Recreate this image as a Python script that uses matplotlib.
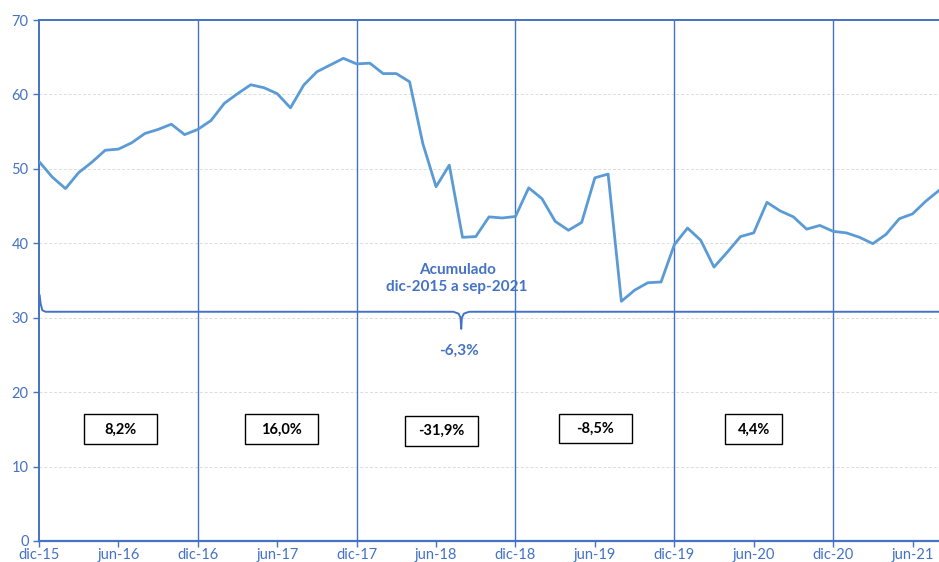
import matplotlib
matplotlib.use('Agg')

import numpy as np
import matplotlib.pyplot as plt
from matplotlib.patches import Rectangle

plt.rcParams['font.family'] = ['Lato', 'DejaVu Sans']

# datos mensuales dic-15 .. ago-21
valores = [51.0, 48.9, 47.35, 49.5, 50.9, 52.5, 52.65, 53.5, 54.75, 55.3, 56.0, 54.6,
           55.3, 56.5, 58.8, 60.1, 61.3, 60.9, 60.1, 58.2, 61.25, 63.05, 63.95, 64.85,
           64.1, 64.2, 62.8, 62.8, 61.7, 53.4, 47.6, 50.5, 40.8, 40.9, 43.55, 43.4,
           43.6, 47.45, 46.0, 42.95, 41.75, 42.8, 48.8, 49.3, 32.2, 33.7, 34.7, 34.8,
           39.8, 42.05, 40.4, 36.8, 38.8, 40.9, 41.4, 45.5, 44.35, 43.55, 41.9, 42.4,
           41.6, 41.4, 40.8, 39.95, 41.2, 43.3, 43.95, 45.65, 47.1]

etiquetas_x = ['dic-15', 'jun-16', 'dic-16', 'jun-17', 'dic-17', 'jun-18',
               'dic-18', 'jun-19', 'dic-19', 'jun-20', 'dic-20', 'jun-21']

variaciones = ['8,2%', '16,0%', '-31,9%', '-8,5%', '4,4%']
acumulado = '-6,3%'

AZUL = '#4472C4'
LINEA = '#5B9BD5'

fig = plt.figure(figsize=(9.39, 5.62), dpi=100)
ax = fig.add_axes([39 / 939, 1 - 541 / 562, 900 / 939, 521 / 562])

x = np.arange(len(valores))
ax.plot(x, valores, color=LINEA, lw=2.0, zorder=4, clip_on=True)

ax.set_xlim(0, 68)
ax.set_ylim(0, 70)
ax.set_yticks(range(0, 71, 10))
ax.set_xticks(np.arange(0, 6 * len(etiquetas_x), 6))
ax.set_xticklabels(etiquetas_x)
ax.yaxis.grid(True, color='#DCDCDC', ls='--', lw=0.7, dashes=(3, 2))
ax.set_axisbelow(True)

for lado in ['left', 'top', 'bottom']:
    ax.spines[lado].set_color(AZUL)
ax.spines['right'].set_visible(False)
ax.spines['bottom'].set_linewidth(1.6)
ax.spines['top'].set_linewidth(1.4)
ax.spines['left'].set_linewidth(1.4)
ax.tick_params(axis='both', colors=AZUL, labelcolor=AZUL, labelsize=10.5, length=4, width=1)
ax.tick_params(axis='x', pad=1)

# lineas verticales de cada año
for m in range(12, 68, 12):
    ax.axvline(m, color=AZUL, lw=1.0, zorder=3)

# llave del acumulado
xs = [0.05, 0.12, 0.25, 0.5, 31.3, 31.7, 31.85, 31.9, 31.95, 32.1, 32.5, 68.5]
ys = [33.0, 31.9, 31.0, 30.8, 30.8, 30.55, 30.0, 28.5, 30.0, 30.55, 30.8, 30.8]
ax.plot(xs, ys, color=AZUL, lw=1.4, zorder=3, clip_on=False)

ax.text(31.6, 35.3, 'Acumulado\ndic-2015 a sep-2021', ha='center', va='center',
        color=AZUL, fontsize=11, fontweight='bold', linespacing=1.3)
ax.text(31.7, 25.6, acumulado, ha='center', va='center', color=AZUL,
        fontsize=11, fontweight='bold')

# cajas con la variación de cada año
centros = [6.15, 18.3, 30.4, 42.05, 54.0]
alturas = [15.0, 15.0, 14.75, 15.1, 15.0]
anchos = [5.5, 5.5, 5.5, 5.5, 4.3]
for txt, cx, cy, w in zip(variaciones, centros, alturas, anchos):
    ax.add_patch(Rectangle((cx - w / 2, cy - 2.0), w, 4.0, fill=True,
                           facecolor='white', edgecolor='black', lw=1.0, zorder=5))
    ax.text(cx, cy, txt, ha='center', va='center', color='black',
            fontsize=10.5, fontweight='bold', zorder=6)

fig.savefig('out.png', dpi=100)
